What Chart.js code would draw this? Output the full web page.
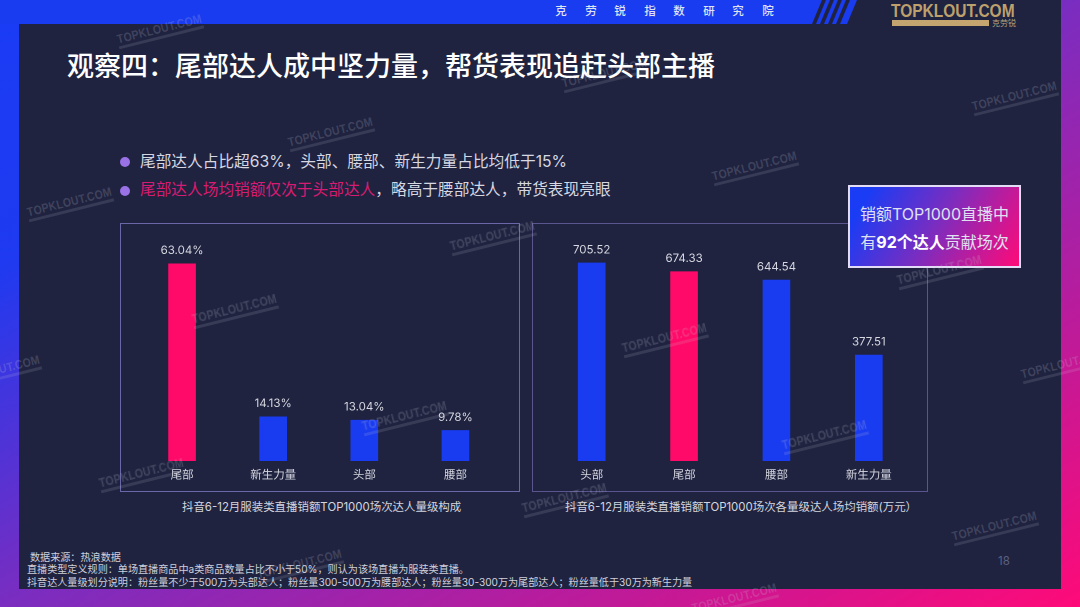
<!DOCTYPE html>
<html lang="zh"><head><meta charset="utf-8">
<script src="https://cdn.jsdelivr.net/npm/chart.js@4"></script>
<style>
html,body{margin:0;padding:0;background:#1f2340}
#s{position:relative;width:1080px;height:607px;overflow:hidden;background:linear-gradient(to bottom right,#1a3cf5 0%,#1f3af0 22%,#7a2dc0 50%,#c01a98 78%,#ff0a78 100%);font-family:Inter,"Noto Sans CJK SC","Noto Sans",sans-serif;}
#s div{position:absolute;white-space:nowrap}
#inner{left:19px;top:24px;width:1042px;height:565px;background:#1f2340}
#topfill{left:812px;top:0;width:249px;height:24px;background:#1f2340}
svg{position:absolute;left:0;top:0}
.h{top:3px;font-size:11.5px;font-weight:500;color:#dfe3f5;width:20px;text-align:center;line-height:16px}
#title{left:67px;top:46px;font-size:27px;line-height:38px;font-weight:500;color:#fff;font-family:"Noto Sans CJK SC",sans-serif}
.b{left:140px;font-size:15.7px;line-height:22px;color:#d6d7e0}
.dot{width:10px;height:10px;border-radius:50%;background:#9a72e6;left:120px}
.panel{box-sizing:border-box;border:1px solid #5a558f}
canvas{position:absolute}
.cap{font-size:11.45px;line-height:16px;color:#d4d5de;top:499px}
.foot{font-size:10.1px;line-height:13px;color:#cfd0da}
#box{left:848px;top:185px;width:173px;height:83px;box-sizing:border-box;border:2px solid #e2dcf6;background:linear-gradient(120deg,#1a3cf5 10%,#7a2dc0 50%,#ff0a78 100%);color:#dfe0f0;font-size:16px;line-height:28px;text-align:center;padding-top:13px}
#box div{position:static}
#box b{font-weight:700;color:#fff}
.wm{color:rgba(205,205,215,.2);font:700 12.5px/13px "Liberation Sans",sans-serif;letter-spacing:.3px;transform:rotate(-14deg) scaleX(.84);transform-origin:center;border-bottom:3px solid rgba(205,205,215,.14);z-index:9;width:104px;text-align:center}
</style></head><body>
<div id="s">
<div id="inner"></div><div id="topfill"></div>
<svg width="1080" height="30" viewBox="0 0 1080 30">
<polygon points="0,0 822,0 812,24 0,24" fill="#1a3cf0"/>
<polygon points="826,0 830,0 820,24 816,24" fill="#1a3cf0"/>
<polygon points="834,0 838,0 828,24 824,24" fill="#1a3cf0"/>
<polygon points="842,0 846,0 836,24 832,24" fill="#1a3cf0"/>
<polygon points="850,0 857,0 847,24 840,24" fill="#1a3cf0"/>
</svg>
<div class="h" style="left:551px">克</div><div class="h" style="left:581px">劳</div><div class="h" style="left:610px">锐</div><div class="h" style="left:640px">指</div><div class="h" style="left:669px">数</div><div class="h" style="left:699px">研</div><div class="h" style="left:728px">究</div><div class="h" style="left:758px">院</div>
<div style="left:891px;top:1px;font:700 18px/20px 'Liberation Sans',sans-serif;color:#bda06c;transform:scaleX(.86);transform-origin:left top">TOPKLOUT.COM</div>
<div style="left:892px;top:20px;width:97px;height:6px;background:#c4a570"></div>
<div style="left:992px;top:18px;font-size:8px;line-height:10px;color:#b8a27a">克劳锐</div>
<div id="title">观察四：尾部达人成中坚力量，帮货表现追赶头部主播</div>
<div class="dot" style="top:157px"></div><div class="dot" style="top:186px"></div>
<div class="b" style="top:151px">尾部达人占比超63%，头部、腰部、新生力量占比均低于15%</div>
<div class="b" style="top:179px"><span style="color:#d81b72">尾部达人场均销额仅次于头部达人</span>，略高于腰部达人，带货表现亮眼</div>
<div class="panel" style="left:120px;top:223px;width:400px;height:269px;border-color:#6a66a8"></div>
<div class="panel" style="left:532px;top:223px;width:396px;height:269px"></div>
<canvas id="c1" style="left:120px;top:223px;width:400px;height:269px"></canvas>
<canvas id="c2" style="left:532px;top:223px;width:396px;height:269px"></canvas>
<div class="cap" style="left:182px">抖音6-12月服装类直播销额TOP1000场次达人量级构成</div>
<div class="cap" style="left:565px">抖音6-12月服装类直播销额TOP1000场次各量级达人场均销额(万元）</div>
<div id="box"><div>销额TOP1000直播中</div><div>有<b>92个达人</b>贡献场次</div></div>
<div class="foot" style="left:30px;top:551px">数据来源：热浪数据</div>
<div class="foot" style="left:27px;top:563px">直播类型定义规则：单场直播商品中a类商品数量占比不小于50%，则认为该场直播为服装类直播。</div>
<div class="foot" style="left:27px;top:576px">抖音达人量级划分说明：粉丝量不少于500万为头部达人；粉丝量300-500万为腰部达人；粉丝量30-300万为尾部达人；粉丝量低于30万为新生力量</div>
<div style="left:998px;top:553px;font-size:11.5px;line-height:16px;color:#5d6180">18</div>
<div id="wms"></div>
</div>
<script>
const shareLabels=["尾部","新生力量","头部","腰部"];
const shareValues=[63.04,14.13,13.04,9.78];
const salesLabels=["头部","尾部","腰部","新生力量"];
const salesValues=[705.52,674.33,644.54,377.51];
const blue="#1a3cf0",pink="#ff0a68";
const shareColors=[pink,blue,blue,blue];
const salesColors=[blue,pink,blue,blue];
const wmCenters=[[160,31],[331,134],[755,168],[1015,98],[70,204],[493,238],[235,311],[665,340],[940,272],[825,437],[405,418],[142,475],[565,500],[995,528],[300,566],[735,600],[-2,372],[1064,366],[605,75]];
const wmHost=document.getElementById('wms');
wmCenters.forEach(([x,y])=>{const d=document.createElement('div');d.className='wm';d.textContent='TOPKLOUT.COM';d.style.left=(x-52)+'px';d.style.top=(y-8)+'px';wmHost.appendChild(d);});
const valueLabels={id:'valueLabels',afterDatasetsDraw(chart,args,opts){
 const {ctx}=chart;const m=chart.getDatasetMeta(0);
 ctx.save();ctx.font='11.5px Inter,"Noto Sans CJK SC",sans-serif';ctx.fillStyle='#d6d7e0';ctx.textAlign='center';ctx.textBaseline='middle';
 m.data.forEach((el,i)=>ctx.fillText(opts.format(chart.data.datasets[0].data[i]),el.x,el.y-13));
 ctx.restore();}};
function build(id,labels,values,colors,max,pad,format){
 return new Chart(document.getElementById(id),{type:'bar',plugins:[valueLabels],
 data:{labels:labels,datasets:[{data:values,backgroundColor:colors,barThickness:27,borderWidth:0}]},
 options:{responsive:false,animation:false,devicePixelRatio:2,
  layout:{padding:pad},
  plugins:{legend:{display:false},tooltip:{enabled:false},title:{display:false},valueLabels:{format:format}},
  scales:{y:{display:false,min:0,max:max},
   x:{grid:{display:false,drawTicks:false},border:{display:false},
    ticks:{color:'#d6d7e0',font:{size:11.5,family:'"Noto Sans CJK SC","Noto Sans",sans-serif'},padding:6,maxRotation:0,autoSkip:false},
    afterFit(s){s.height=31;}}}}});
}
for(const [id,w] of [['c1',400],['c2',396]]){const c=document.getElementById(id);c.width=w;c.height=269;}
build('c1',shareLabels,shareValues,shareColors,70,{left:16.5,right:19,top:19,bottom:0},v=>v.toFixed(2)+'%');
build('c2',salesLabels,salesValues,salesColors,800,{left:13.5,right:13,top:13.5,bottom:0},v=>v.toFixed(2));
</script>
</body></html>
